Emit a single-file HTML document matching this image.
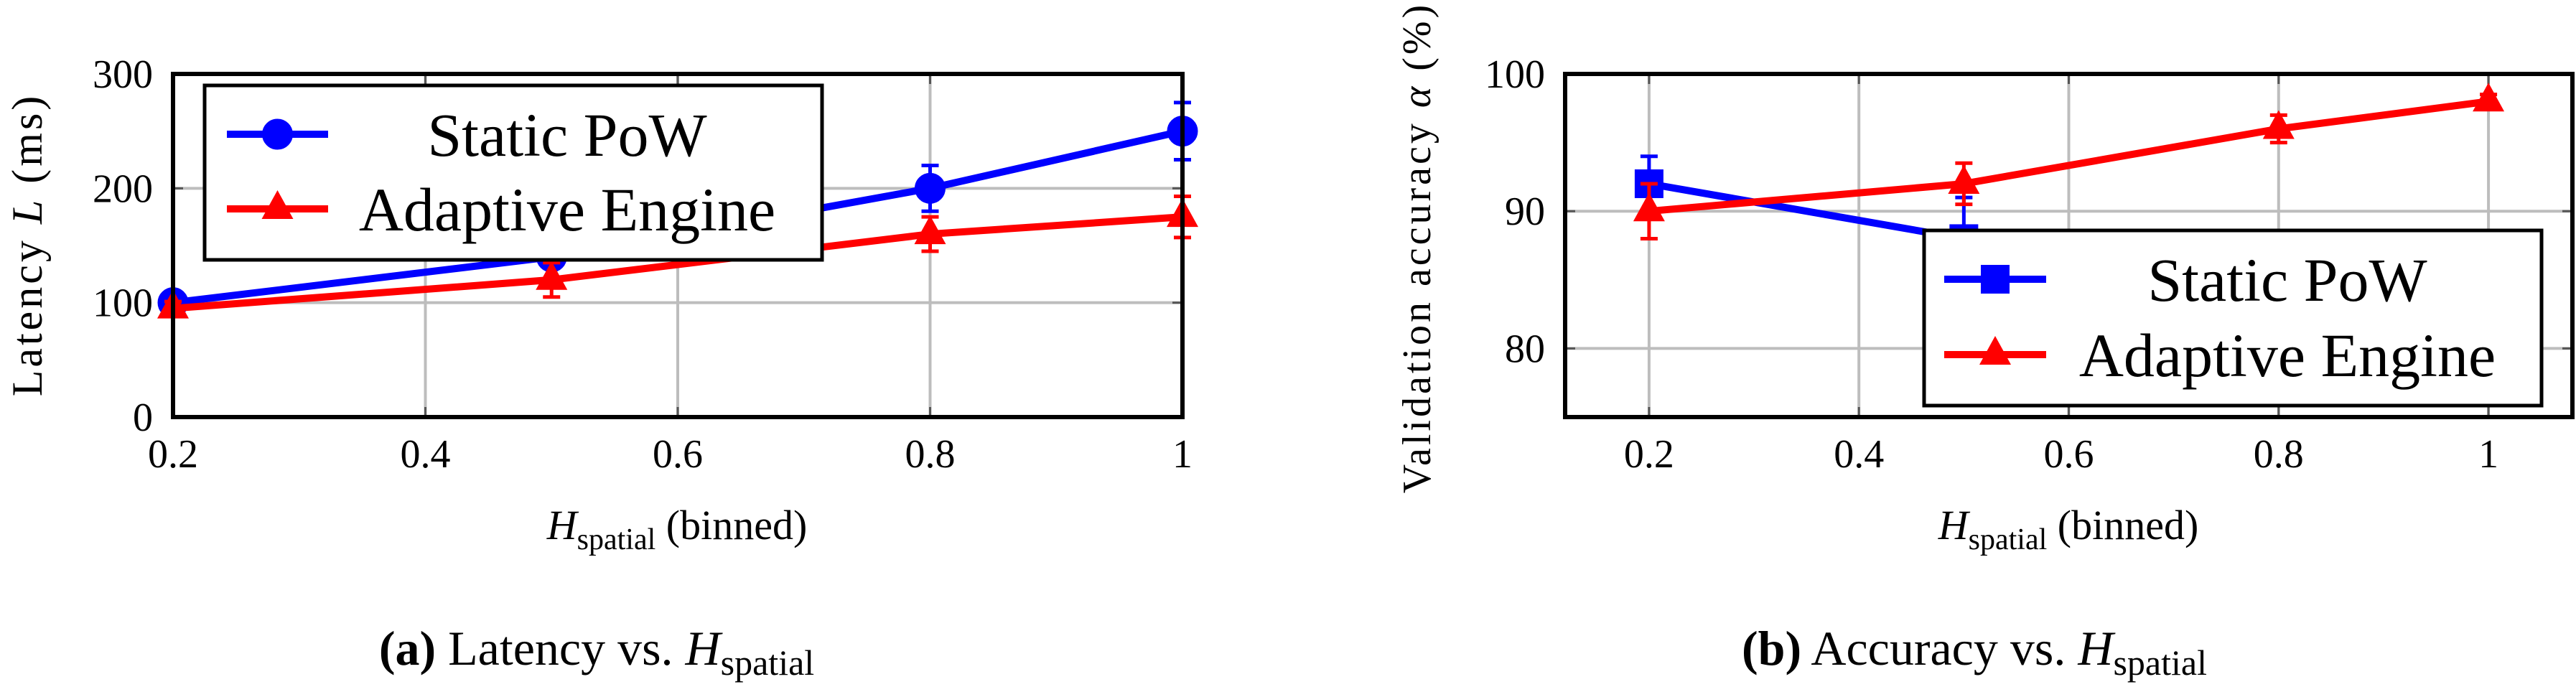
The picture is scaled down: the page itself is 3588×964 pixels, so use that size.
<!DOCTYPE html>
<html><head><meta charset="utf-8"><style>
html,body{margin:0;padding:0;background:#fff;width:3588px;height:964px;overflow:hidden}
svg{display:block;font-family:"Liberation Serif",serif}
</style></head><body>
<svg id="fig" width="3588" height="964" viewBox="0 0 3588 964"></svg>
<script>
// Panel (a) data
const xValsA = [0.2, 0.5, 0.8, 1.0];
const staticLatency = [100, 140, 200, 250];
const staticLatencyErr = [5, 8, 20, 25];
const adaptiveLatency = [95, 120, 160, 175];
const adaptiveLatencyErr = [6, 15, 15, 18];
const yTicksA = [0, 100, 200, 300];
const xTicks = [0.2, 0.4, 0.6, 0.8, 1];
const xTickLabels = ["0.2", "0.4", "0.6", "0.8", "1"];
// Panel (b) data
const xValsB = [0.2, 0.5, 0.8, 1.0];
const staticAcc = [92, 88, 85, 83];
const staticAccErr = [2, 3, 1, 1];
const adaptiveAcc = [90, 92, 96, 98];
const adaptiveAccErr = [2, 1.5, 1, 0.5];
const yTicksB = [80, 90, 100];

const NS = "http://www.w3.org/2000/svg";
const svg = document.getElementById("fig");
function mk(tag, attrs, parent, text) {
  const e = document.createElementNS(NS, tag);
  for (const k in attrs) e.setAttribute(k, attrs[k]);
  if (text !== undefined) e.textContent = text;
  (parent || svg).appendChild(e);
  return e;
}
function scale(d0, d1, r0, r1) { return v => r0 + (v - d0) / (d1 - d0) * (r1 - r0); }

function panel(cfg) {
  const g = mk("g", {});
  
  
  const X = scale(cfg.xd[0], cfg.xd[1], cfg.L, cfg.R);
  const Y = scale(cfg.yd[0], cfg.yd[1], cfg.B, cfg.T);
  xTicks.forEach(t => {
    const l = mk("line", {x1: X(t), x2: X(t), y1: cfg.T, y2: cfg.B, stroke: "#bdbdbd", "stroke-width": 4}, g);
    
    
    mk("line", {x1: X(t), x2: X(t), y1: cfg.B, y2: cfg.B - 14, stroke: "#555", "stroke-width": 3}, g);
    mk("line", {x1: X(t), x2: X(t), y1: cfg.T, y2: cfg.T + 14, stroke: "#555", "stroke-width": 3}, g);
  });
  cfg.yTicks.forEach(t => {
    const l = mk("line", {x1: cfg.L, x2: cfg.R, y1: Y(t), y2: Y(t), stroke: "#bdbdbd", "stroke-width": 4}, g);
    
    
    mk("line", {x1: cfg.L, x2: cfg.L + 14, y1: Y(t), y2: Y(t), stroke: "#555", "stroke-width": 3}, g);
    mk("line", {x1: cfg.R, x2: cfg.R - 14, y1: Y(t), y2: Y(t), stroke: "#555", "stroke-width": 3}, g);
    const tl = mk("text", {x: cfg.L - 28, y: Y(t) + 19, "font-size": 56, "text-anchor": "end"}, g, String(t));
    
    
  });
  xTicks.forEach((t, i) => {
    const tl = mk("text", {x: X(t), y: cfg.B + 70, "font-size": 56, "text-anchor": "middle"}, g, xTickLabels[i]);
    
    
  });
  cfg.series.forEach(s => {
    const sg = mk("g", {}, g);
    
    
    const pts = cfg.xv.map((x, i) => X(x) + "," + Y(s.v[i])).join(" ");
    mk("polyline", {points: pts, fill: "none", stroke: s.color, "stroke-width": 10, "stroke-linejoin": "round"}, sg);
    cfg.xv.forEach((x, i) => {
      const cx = X(x), hi = Y(s.v[i] + s.e[i]), lo = Y(s.v[i] - s.e[i]);
      const eb = mk("path", {d: `M${cx},${hi}V${lo}M${cx-12},${hi}H${cx+12}M${cx-12},${lo}H${cx+12}`, stroke: s.color, "stroke-width": 5, fill: "none"}, sg);
      
      
      const m = marker(s.shape, cx, Y(s.v[i]), s.color, sg);
      
      
    });
  });
  const fr = mk("rect", {x: cfg.L, y: cfg.T, width: cfg.R - cfg.L, height: cfg.B - cfg.T, fill: "none", stroke: "#000", "stroke-width": 6}, g);
  
  
  const lg = mk("g", {}, g);
  
  
  const Lb = cfg.legend;
  mk("rect", {x: Lb.x, y: Lb.y, width: Lb.w, height: Lb.h, fill: "#fff", stroke: "#000", "stroke-width": 5}, lg);
  cfg.series.forEach((s, i) => {
    const ry = Lb.rows[i];
    const e = mk("g", {}, lg);
    
    
    mk("line", {x1: Lb.lx0, x2: Lb.lx1, y1: ry, y2: ry, stroke: s.color, "stroke-width": 10}, e);
    marker(s.shape, (Lb.lx0 + Lb.lx1) / 2, ry, s.color, e);
    mk("text", {x: Lb.tx, y: ry + 30, "font-size": 86, "text-anchor": "middle"}, e, s.label);
  });
  const xt = mk("text", {x: cfg.xTitleX, y: 751, "font-size": 58, "text-anchor": "middle"}, g);
  
  
  mk("tspan", {"font-style": "italic"}, xt, "H");
  mk("tspan", {"font-size": 42, dy: 14}, xt, "spatial");
  mk("tspan", {dy: -14}, xt, " (binned)");
  const yt = mk("text", {transform: `translate(${cfg.yTitleX},${cfg.yTitleY}) rotate(-90)`, "font-size": cfg.yTitleSize, "text-anchor": "middle", "letter-spacing": 4}, g);
  
  
  cfg.yTitle.forEach(p => mk("tspan", p.i ? {"font-style": "italic"} : {}, yt, p.t));
  const cp = mk("text", {x: cfg.capX, y: 926, "font-size": 68, "text-anchor": "middle"}, g);
  
  
  mk("tspan", {"font-weight": "bold"}, cp, cfg.capTag);
  mk("tspan", {}, cp, cfg.capText);
  mk("tspan", {"font-style": "italic"}, cp, "H");
  mk("tspan", {"font-size": 50, dy: 14}, cp, "spatial");
}
function marker(shape, x, y, c, p) {
  if (shape === "circle") return mk("circle", {cx: x, cy: y, r: 21, fill: c, stroke: c}, p);
  if (shape === "square") return mk("rect", {x: x - 20, y: y - 20, width: 40, height: 40, fill: c}, p);
  return mk("polygon", {points: `${x},${y-26} ${x+22},${y+14} ${x-22},${y+14}`, fill: c}, p);
}

panel({
  name: "latency-chart", L: 241, R: 1647, T: 103, B: 581, xd: [0.2, 1.0], yd: [0, 300],
  xv: xValsA, yTicks: yTicksA,
  series: [
    {name: "static-pow-series", v: staticLatency, e: staticLatencyErr, color: "#0000ff", shape: "circle", label: "Static PoW"},
    {name: "adaptive-engine-series", v: adaptiveLatency, e: adaptiveLatencyErr, color: "#ff0000", shape: "triangle", label: "Adaptive Engine"}
  ],
  legend: {x: 285, y: 119, w: 860, h: 243, rows: [187, 291], lx0: 316, lx1: 457, tx: 790},
  xTitleX: 943, yTitleX: 58, yTitleY: 341, yTitleSize: 60,
  yTitle: [{t: "Latency "}, {t: "L", i: true}, {t: " (ms)"}],
  capX: 831, capTag: "(a)", capText: " Latency vs. "
});
panel({
  name: "accuracy-chart", L: 2180, R: 3583, T: 103, B: 581, xd: [0.12, 1.08], yd: [75, 100],
  xv: xValsB, yTicks: yTicksB,
  series: [
    {name: "static-pow-series", v: staticAcc, e: staticAccErr, color: "#0000ff", shape: "square", label: "Static PoW"},
    {name: "adaptive-engine-series", v: adaptiveAcc, e: adaptiveAccErr, color: "#ff0000", shape: "triangle", label: "Adaptive Engine"}
  ],
  legend: {x: 2680, y: 321, w: 860, h: 244, rows: [389, 494], lx0: 2708, lx1: 2850, tx: 3186},
  xTitleX: 2881, yTitleX: 1992, yTitleY: 345, yTitleSize: 56,
  yTitle: [{t: "Validation accuracy "}, {t: "α", i: true}, {t: " (%)"}],
  capX: 2750, capTag: "(b)", capText: " Accuracy vs. "
});
</script>
</body></html>
